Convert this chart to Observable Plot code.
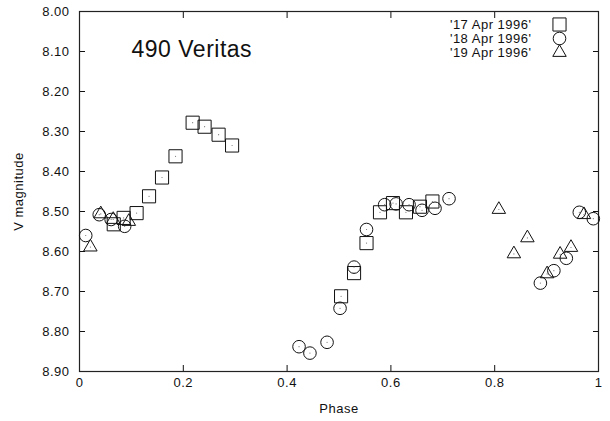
<!DOCTYPE html>
<html>
<head>
<meta charset="utf-8">
<script src="https://cdn.jsdelivr.net/npm/d3@7"></script>
<script src="https://cdn.jsdelivr.net/npm/@observablehq/plot@0.6"></script>
<style>
  html, body { margin: 0; padding: 0; background: #fff; }
  svg { display: block; }
</style>
</head>
<body>
<div id="chart"></div>
<script>
const title = "490 Veritas";
const xLabel = "Phase";
const yLabel = "V magnitude";
const xTicks = [0, 0.2, 0.4, 0.6, 0.8, 1];
const yTicks = [8.0, 8.1, 8.2, 8.3, 8.4, 8.5, 8.6, 8.7, 8.8, 8.9];
const seriesNames = ["'17 Apr 1996'", "'18 Apr 1996'", "'19 Apr 1996'"];

const apr17Phase = [0.066, 0.085, 0.110, 0.134, 0.159, 0.185, 0.218, 0.241, 0.268, 0.294, 0.504, 0.529, 0.553, 0.579, 0.604, 0.629, 0.656, 0.680];
const apr17Mag   = [8.532, 8.516, 8.504, 8.462, 8.415, 8.362, 8.278, 8.288, 8.308, 8.335, 8.712, 8.654, 8.579, 8.502, 8.479, 8.502, 8.488, 8.475];

const apr18Phase = [0.012, 0.038, 0.061, 0.087, 0.423, 0.444, 0.477, 0.502, 0.529, 0.553, 0.588, 0.610, 0.635, 0.660, 0.685, 0.712, 0.888, 0.914, 0.938, 0.963, 0.990];
const apr18Mag   = [8.560, 8.508, 8.520, 8.537, 8.838, 8.854, 8.827, 8.742, 8.639, 8.545, 8.483, 8.481, 8.483, 8.497, 8.492, 8.468, 8.679, 8.648, 8.617, 8.502, 8.518];

const apr19Phase = [0.021, 0.041, 0.065, 0.095, 0.808, 0.837, 0.863, 0.901, 0.926, 0.947, 0.972];
const apr19Mag   = [8.589, 8.506, 8.520, 8.525, 8.495, 8.606, 8.566, 8.656, 8.607, 8.590, 8.508];

const toRows = (ph, mg) => ph.map((p, i) => ({phase: p, mag: mg[i]}));
const series = [
  {name: seriesNames[0], symbol: "square", r: 7.4, rows: toRows(apr17Phase, apr17Mag)},
  {name: seriesNames[1], symbol: "circle", r: 6.3, rows: toRows(apr18Phase, apr18Mag)},
  {name: seriesNames[2], symbol: "triangle", r: 5.0, rows: toRows(apr19Phase, apr19Mag)}
];

const ink = "#111";
const dataMarks = series.flatMap(s => [
  Plot.dot(s.rows, {x: "phase", y: "mag", symbol: () => s.symbol, r: s.r, stroke: ink, strokeWidth: 1, fill: "none"}),
  Plot.dot(s.rows, {x: "phase", y: "mag", r: 0.6, fill: "#777", stroke: "none"})
]);

const legendMarks = series.flatMap((s, i) => [
  Plot.text([s.name], {frameAnchor: "top-right", text: d => d, textAnchor: "end", lineAnchor: "middle", dx: -67, dy: 13 + 14 * i, fontSize: 13, fill: ink}),
  Plot.dot([s.name], {frameAnchor: "top-right", symbol: () => s.symbol, r: s.r, dx: -39, dy: 13 + 14 * i, stroke: ink, strokeWidth: 1, fill: "none"})
]);

const chart = Plot.plot({
  width: 610,
  height: 421,
  marginLeft: 79,
  marginRight: 12,
  marginTop: 11,
  marginBottom: 50,
  style: {fontFamily: "'Liberation Sans', Arial, Helvetica, sans-serif", fontSize: "13px", color: ink, background: "#fff", letterSpacing: "0.5px"},
  x: {domain: [0, 1]},
  y: {domain: [8.0, 8.9], reverse: true},
  marks: [
    Plot.axisX({anchor: "bottom", ticks: xTicks, tickSize: 0, tickPadding: 6, tickFormat: d => String(d), label: null, fontSize: 13}),
    Plot.axisX({anchor: "bottom", ticks: xTicks, tickSize: -6, tickFormat: () => "", label: null, stroke: ink}),
    Plot.axisX({anchor: "top", ticks: xTicks, tickSize: -6, tickFormat: () => "", label: null, stroke: ink}),
    Plot.axisY({anchor: "left", ticks: yTicks, tickSize: 0, tickPadding: 10, tickFormat: d3.format(".2f"), label: null, fontSize: 13}),
    Plot.axisY({anchor: "left", ticks: yTicks, tickSize: -6, tickFormat: () => "", label: null, stroke: ink}),
    Plot.axisY({anchor: "right", ticks: yTicks, tickSize: -6, tickFormat: () => "", label: null, stroke: ink}),
    Plot.frame({stroke: "#222", strokeWidth: 1.2}),
    Plot.text([title], {frameAnchor: "top-left", text: d => d, textAnchor: "start", lineAnchor: "middle", dx: 52, dy: 38, fontSize: 23, letterSpacing: "0.8px", fill: ink}),
    Plot.text([xLabel], {frameAnchor: "bottom", text: d => d, textAnchor: "middle", lineAnchor: "middle", dy: 37, fontSize: 13, fill: ink}),
    Plot.text([yLabel], {frameAnchor: "left", text: d => d, textAnchor: "middle", lineAnchor: "middle", rotate: -90, dx: -61, fontSize: 13, fill: ink}),
    ...dataMarks,
    ...legendMarks
  ]
});
document.getElementById("chart").appendChild(chart);
</script>
</body>
</html>
